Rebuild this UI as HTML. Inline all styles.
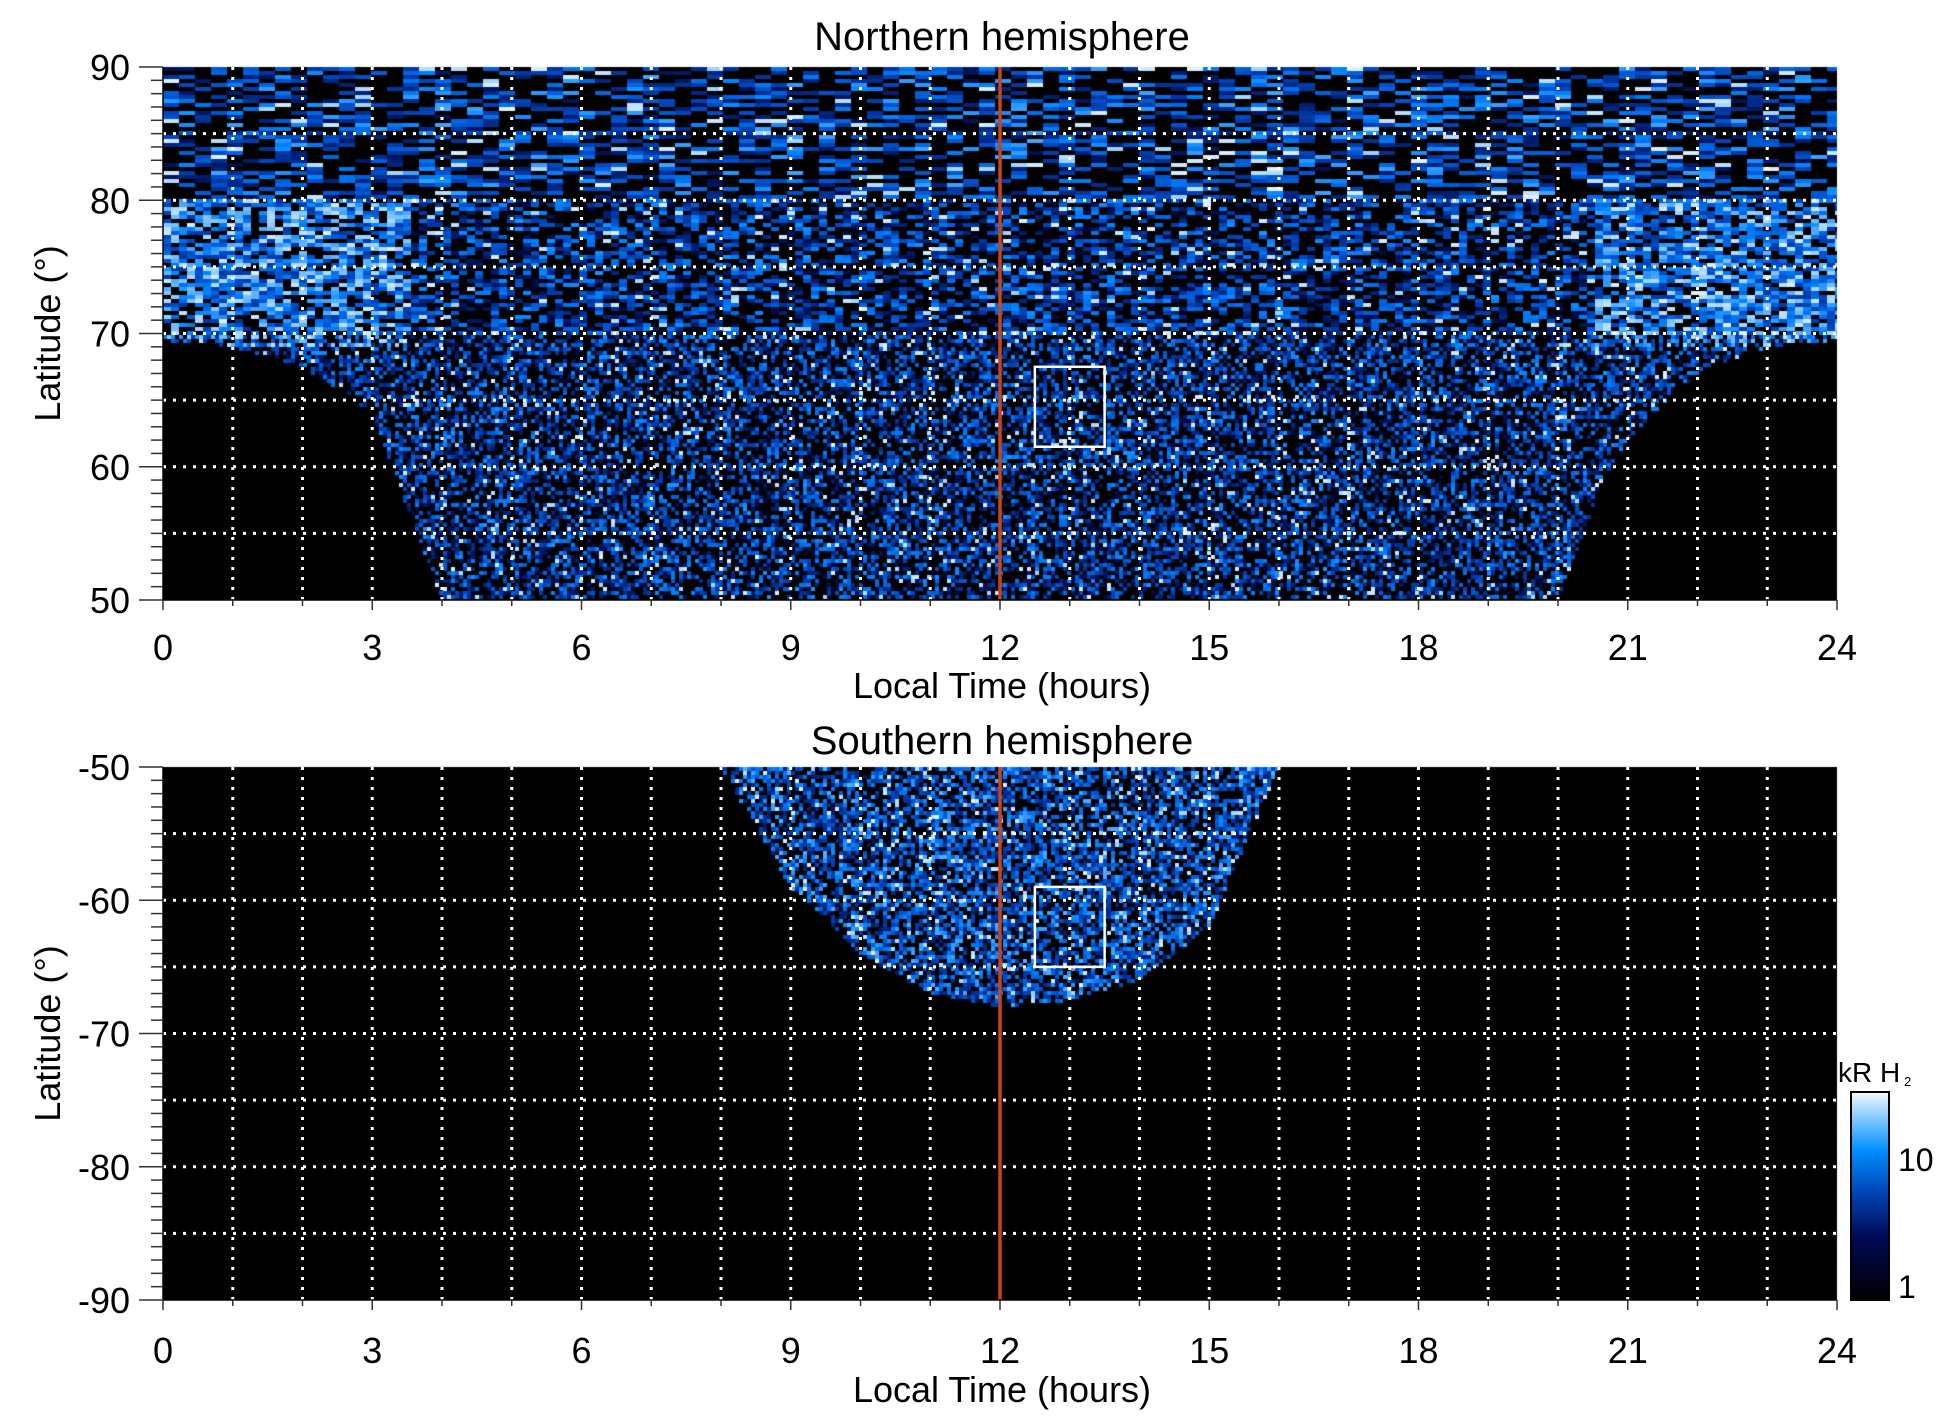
<!DOCTYPE html>
<html><head><meta charset="utf-8"><style>
html,body{margin:0;padding:0;background:#fff;width:1950px;height:1423px;overflow:hidden}
svg text{font-family:"Liberation Sans",Arial,sans-serif;fill:#000}
</style></head><body>
<div style="position:relative;width:1950px;height:1423px">
<canvas id="cv" width="1950" height="1423" style="position:absolute;left:0;top:0"></canvas>
<svg id="sv" width="1950" height="1423" style="position:absolute;left:0;top:0"></svg>
</div>
<script>
// data arrays
const xTicks=[0,3,6,9,12,15,18,21,24];
const northYTicks=[50,60,70,80,90];
const southYTicks=[-90,-80,-70,-60,-50];
const northBoundLT=[0,1,2,3,3.5,4,20,20.5,21,22,23,24];
const northBoundLat=[69.5,69,67.5,64,57,50,50,57,62,67,69,69.5];
const southBoundLT=[8,9,10,11,12,13,14,15,16];
const southBoundLat=[-50,-59,-64,-67,-68,-67.5,-66,-62,-50];
const boxLT=[12.5,13.5];
const northBoxLat=[67.5,61.5];
const southBoxLat=[-59,-65];
const cbTicks=[1,10];

const L=163,R=1837;
const X=lt=>L+lt*(R-L)/24;
const panels=[{top:67,bot:600,lat0:90,lat1:50,yt:northYTicks,bLT:northBoundLT,bLat:northBoundLat,north:true,box:northBoxLat,title:"Northern hemisphere",ty:37,xl:647,xt:685,name:"northern"},
{top:767,bot:1300,lat0:-50,lat1:-90,yt:southYTicks,bLT:southBoundLT,bLat:southBoundLat,north:false,box:southBoxLat,title:"Southern hemisphere",ty:741,xl:1350,xt:1389,name:"southern"}];
function interp(xs,ys,x){if(x<=xs[0])return ys[0];for(let i=1;i<xs.length;i++){if(x<=xs[i]){const t=(x-xs[i-1])/(xs[i]-xs[i-1]);return ys[i-1]+t*(ys[i]-ys[i-1]);}}return ys[ys.length-1];}
function hash(a,b){let h=(a*374761393+b*668265263)|0;h=(h^(h>>>13))*1274126177|0;h=h^(h>>>16);return ((h>>>0)%10000)/10000;}
const stops=[[0,[0,0,0]],[0.25,[0,10,70]],[0.5,[0,70,190]],[0.7,[0,130,255]],[0.88,[140,200,255]],[1,[255,255,255]]];
function cmap(v){for(let i=1;i<stops.length;i++){if(v<=stops[i][0]){const a=stops[i-1],b=stops[i],t=(v-a[0])/(b[0]-a[0]);return `rgb(${a[1].map((c,k)=>Math.round(c+t*(b[1][k]-c))).join(',')})`;}}return '#fff';}
const cv=document.getElementById('cv'),ctx=cv.getContext('2d');
const NS='http://www.w3.org/2000/svg',sv=document.getElementById('sv');
function el(tag,attrs,txt){const e=document.createElementNS(NS,tag);for(const k in attrs)e.setAttribute(k,attrs[k]);if(txt!==undefined)e.textContent=txt;sv.appendChild(e);return e;}
panels.forEach((p,pi)=>{
 const Y=lat=>p.top+(p.lat0-lat)*(p.bot-p.top)/(p.lat0-p.lat1);
 ctx.save();
 ctx.beginPath();ctx.rect(L,p.top,R-L,p.bot-p.top);ctx.clip();
 ctx.fillStyle='#000';ctx.fillRect(L,p.top,R-L,p.bot-p.top);
 const ch=4;
 for(let y=p.top;y<p.bot;y+=ch){
  const lat=p.lat0-(y+ch/2-p.top)*(p.lat0-p.lat1)/(p.bot-p.top);
  const cw=(p.north&&lat>80)?16:(p.north&&lat>70?8:4);
  for(let x=L;x<R;x+=cw){
   const lt=(x+cw/2-L)*24/(R-L);
   const inRange=p.north?true:(lt>=p.bLT[0]&&lt<=p.bLT[p.bLT.length-1]);
   if(!inRange)continue;
   const bl=interp(p.bLT,p.bLat,lt);
   if(lat<bl) continue;
   const r=hash(Math.floor(x/cw)+pi*5000,Math.floor(y/ch));
   let base=0.5, blk=0.45;
   const bright=p.north&&lat>69&&lat<80&&(lt<3.5||lt>20.5);
   if(bright){base=0.7;blk=0.25;}
   if(p.north&&lat>80){blk=0.5;base=0.55;}
   if(!p.north){base=0.58;blk=0.35;}
   if(r<blk)continue;
   let q=hash(x*7+3,y*13+pi);
   let v=base+(q-0.5)*0.55;
   if(q>0.93)v=0.9+(q-0.93);
   v=Math.max(0.2,Math.min(1,v));
   ctx.fillStyle=cmap(v);ctx.fillRect(x,y,cw,ch);
  }
 }
 ctx.restore();
 const g=el('g',{});
 for(let h=1;h<24;h++){const l=document.createElementNS(NS,'line');l.setAttribute('x1',X(h));l.setAttribute('x2',X(h));l.setAttribute('y1',p.top);l.setAttribute('y2',p.bot);l.setAttribute('stroke','#fff');l.setAttribute('stroke-width',3);l.setAttribute('stroke-dasharray','3 7');g.appendChild(l);}
 for(let lat=p.lat1+5;lat<p.lat0;lat+=5){const l=document.createElementNS(NS,'line');l.setAttribute('x1',L);l.setAttribute('x2',R);l.setAttribute('y1',Y(lat));l.setAttribute('y2',Y(lat));l.setAttribute('stroke','#fff');l.setAttribute('stroke-width',3);l.setAttribute('stroke-dasharray','3 7');g.appendChild(l);}
 const rl=el('line',{x1:X(12),x2:X(12),y1:p.top,y2:p.bot,stroke:'#c8441a','stroke-width':3.5});
 
 const bx=el('rect',{x:X(boxLT[0]),y:Y(p.box[0]),width:X(boxLT[1])-X(boxLT[0]),height:Y(p.box[1])-Y(p.box[0]),fill:'none',stroke:'#fff','stroke-width':2.5});
 
 el('line',{x1:L,x2:L,y1:p.top,y2:p.bot,stroke:'#000','stroke-width':1.5});
 el('line',{x1:L,x2:R,y1:p.bot,y2:p.bot,stroke:'#000','stroke-width':1.5});
 for(let lat=p.lat1;lat<=p.lat0;lat++){const maj=lat%10===0;el('line',{x1:L-(maj?24:12),x2:L,y1:Y(lat),y2:Y(lat),stroke:'#333','stroke-width':1.5});}
 for(let h=0;h<=24;h++){el('line',{x1:X(h),x2:X(h),y1:p.bot,y2:p.bot+(h%3===0?10:6),stroke:'#333','stroke-width':1.5});}
 p.yt.forEach(v=>{const t=el('text',{x:130,y:Y(v)+13,'text-anchor':'end','font-size':36},String(v));});
 xTicks.forEach(v=>{const t=el('text',{x:X(v),y:p.xl+13,'text-anchor':'middle','font-size':36},String(v));});
 const tt=el('text',{x:1002,y:p.ty+13,'text-anchor':'middle','font-size':40},p.title);
 const xl=el('text',{x:1002,y:p.xt+13,'text-anchor':'middle','font-size':36},'Local Time (hours)');
 const cy=(p.top+p.bot)/2;
 const yl=el('text',{x:0,y:0,'text-anchor':'middle','font-size':36,transform:`translate(60,${cy}) rotate(-90)`},'Latitude (°)');
});
const cbX=1851,cbW=38,cbT=1092,cbB=1300;
const grad=ctx.createLinearGradient(0,cbB,0,cbT);
grad.addColorStop(0,'#000');grad.addColorStop(0.3,'#000a55');grad.addColorStop(0.5,'#0040b0');grad.addColorStop(0.72,'#0090ff');grad.addColorStop(1,'#f4f8ff');
ctx.fillStyle=grad;ctx.fillRect(cbX,cbT,cbW,cbB-cbT);
const cbr=el('rect',{x:cbX,y:cbT,width:cbW,height:cbB-cbT,fill:'none',stroke:'#000','stroke-width':2});

const cbY=v=>cbB-Math.log10(v)/Math.log10(30)*(cbB-cbT);
cbTicks.forEach(v=>{const t=el('text',{x:1898,y:cbY(v)+(v===1?-2:12),'font-size':32},String(v));});
const ct=el('text',{x:1838,y:1082,'font-size':28},'kR H');
el('text',{x:1904,y:1086,'font-size':13},'2');
</script>
</body></html>
